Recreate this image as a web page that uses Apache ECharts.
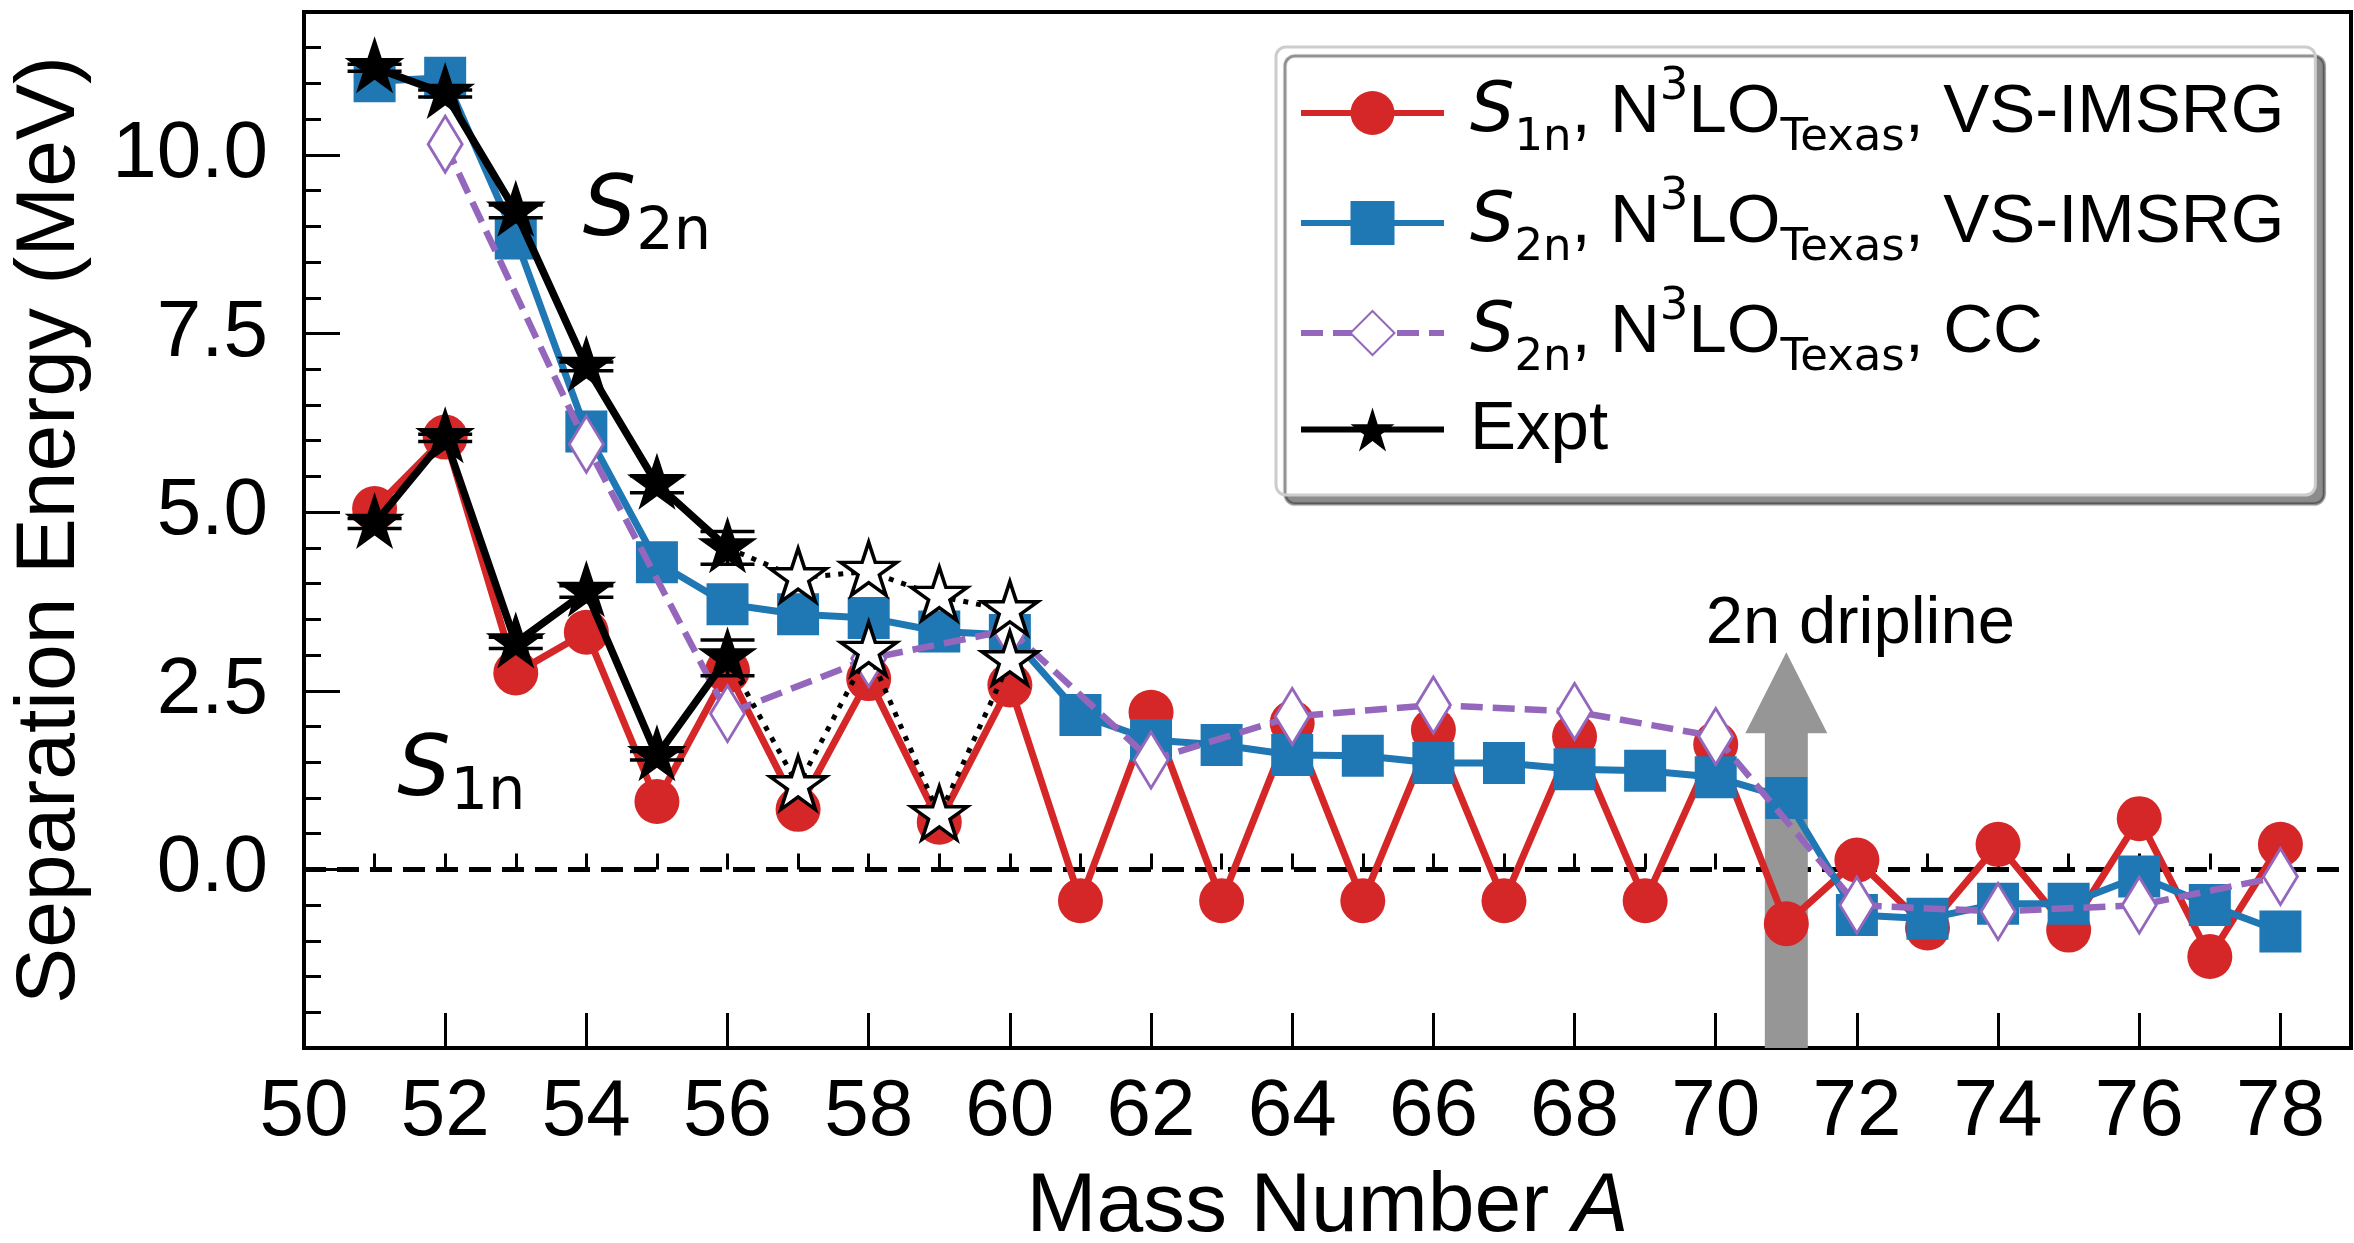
<!DOCTYPE html>
<html>
<head>
<meta charset="utf-8">
<script src="https://cdn.jsdelivr.net/npm/echarts@6/dist/echarts.min.js"></script>
<style>
html,body{margin:0;padding:0;background:#fff;}
#chart{width:2354px;height:1243px;}
</style>
</head>
<body>
<div id="chart"></div>
<script>
// ---------------- data ----------------
const massNumbers = [51,52,53,54,55,56,57,58,59,60,61,62,63,64,65,66,67,68,69,70,71,72,73,74,75,76,77,78];
const s1nIMSRG = [5.05,6.05,2.75,3.32,0.95,2.78,0.84,2.67,0.66,2.58,-0.44,2.20,-0.44,2.05,-0.44,1.95,-0.44,1.86,-0.44,1.75,-0.76,0.13,-0.82,0.35,-0.85,0.71,-1.22,0.35];
const s2nIMSRG = [11.03,11.08,8.83,6.13,4.30,3.71,3.57,3.52,3.33,3.28,2.16,1.81,1.74,1.60,1.59,1.49,1.49,1.40,1.38,1.29,1.00,-0.64,-0.69,-0.48,-0.48,-0.10,-0.50,-0.87];
const ccMass = [52,54,56,58,60,62,64,66,68,70,72,74,76,78];
const s2nCC = [10.15,5.95,2.18,2.95,3.35,1.53,2.14,2.30,2.21,1.86,-0.50,-0.59,-0.50,-0.10];
const exptMass = [51,52,53,54,55,56];
const s2nExpt = [11.22,10.86,9.21,7.04,5.39,4.50];
const s2nExptErr = [0.05,0.05,0.09,0.06,0.12,0.23];
const s1nExpt = [4.84,6.04,3.17,3.89,1.59,2.96];
const s1nExptErr = [0.07,0.05,0.08,0.08,0.06,0.25];
const extrapMass = [57,58,59,60];
const s2nExtrap = [4.08,4.17,3.82,3.62];
const s1nExtrap = [1.17,3.05,0.75,2.92];
const xRange = [50, 79];
const yRange = [-2.5, 12];
const xMajor = 2, xMinor = 1;
const yMajor = 2.5, yMinor = 0.5;
const driplineA = 71;
const driplineTip = 3.04;
// annotation anchors (data coords, baseline-left)
const labelS2n = [53.95, 8.78];
const labelS1n = [51.32, 0.94];
const labelDrip = [69.86, 3.11];

// ---------------- helpers ----------------
const zip = (xs, ys) => xs.map((x, i) => [x, ys[i]]);
const RED = '#d62728', BLUE = '#1f77b4', PURPLE = '#9467bd', GRAY = '#969696';
const STAR = 'path://M100,0L122.45,69.1L195.11,69.1L136.33,111.8L158.78,180.9L100,138.2L41.22,180.9L63.67,111.8L4.89,69.1L77.55,69.1Z';
const DIAMOND = 'path://M30,0L60,50L30,100L0,50Z';
const SANS = 'Liberation Sans';
const MATH = 'DejaVu Sans';

const N1 = 'S1n, N3LO Texas, VS-IMSRG';
const N2 = 'S2n, N3LO Texas, VS-IMSRG';
const N3 = 'S2n, N3LO Texas, CC';
const N4 = 'Expt';
const legendText = {};
legendText[N1] = '{s|S}{sb|1n}{n|, N}{sp|3}{n|LO}{sb|Texas}{n|, VS-IMSRG}';
legendText[N2] = '{s|S}{sb|2n}{n|, N}{sp|3}{n|LO}{sb|Texas}{n|, VS-IMSRG}';
legendText[N3] = '{s|S}{sb|2n}{n|, N}{sp|3}{n|LO}{sb|Texas}{n|, CC}';
legendText[N4] = '{e|Expt}';

function errBarRender(params, api) {
  const x = api.value(0), lo = api.value(1), hi = api.value(2);
  const a = api.coord([x, lo]), b = api.coord([x, hi]);
  const hw = 27;
  const st = {stroke: '#000', lineWidth: 3.5};
  return {type: 'group', children: [
    {type: 'line', shape: {x1: a[0], y1: a[1], x2: b[0], y2: b[1]}, style: st},
    {type: 'line', shape: {x1: a[0]-hw, y1: a[1], x2: a[0]+hw, y2: a[1]}, style: st},
    {type: 'line', shape: {x1: b[0]-hw, y1: b[1], x2: b[0]+hw, y2: b[1]}, style: st}
  ]};
}
function arrowRender(params, api) {
  const x = api.value(0);
  const base = api.coord([x, api.value(1)]);
  const tip = api.coord([x, api.value(2)]);
  const sw = 21.5, hw = 41, hl = 81;
  const hy = tip[1] + hl;
  return {type: 'polygon', shape: {points: [
    [base[0]-sw, base[1]], [base[0]-sw, hy], [tip[0]-hw, hy], [tip[0], tip[1]],
    [tip[0]+hw, hy], [base[0]+sw, hy], [base[0]+sw, base[1]]
  ]}, style: {fill: GRAY}};
}

const tickStyle = {color: '#000', width: 3};
const chart = echarts.init(document.getElementById('chart'), null, {renderer: 'canvas'});
const option = {
  animation: false,
  backgroundColor: '#fff',
  textStyle: {fontFamily: SANS, color: '#000'},
  grid: {left: 304, right: 3, top: 12, bottom: 195, show: true, borderColor: '#000', borderWidth: 4,
         containLabel: false, outerBoundsMode: 'none'},
  xAxis: [{
    type: 'value', min: xRange[0], max: xRange[1], interval: xMajor, position: 'bottom',
    axisLine: {show: true, onZero: false, lineStyle: {color: '#000', width: 4}},
    axisTick: {show: true, inside: true, length: 35, lineStyle: tickStyle},
    minorTick: {show: false}, splitLine: {show: false},
    axisLabel: {margin: 25, fontSize: 80, fontFamily: SANS, color: '#000', showMaxLabel: false,
                formatter: v => String(v)},
    name: 'Mass Number {i|A}', nameLocation: 'middle', nameGap: 118,
    nameTextStyle: {fontSize: 84, fontFamily: SANS, color: '#000',
      rich: {i: {fontSize: 84, fontFamily: SANS, fontStyle: 'italic', color: '#000'}}}
  }, {
    type: 'value', min: xRange[0], max: xRange[1], interval: xMinor, position: 'bottom', offset: 0,
    axisLine: {show: false}, axisTick: {show: true, inside: true, length: 16, lineStyle: tickStyle},
    axisLabel: {show: false}, splitLine: {show: false}
  }],
  yAxis: [{
    type: 'value', min: yRange[0], max: yRange[1], interval: yMajor, position: 'left',
    axisLine: {show: true, onZero: false, lineStyle: {color: '#000', width: 4}},
    axisTick: {show: true, inside: true, length: 36, lineStyle: tickStyle},
    minorTick: {show: false}, splitLine: {show: false},
    axisLabel: {margin: 36, fontSize: 80, fontFamily: SANS, color: '#000', showMinLabel: false, showMaxLabel: false,
                formatter: v => v.toFixed(1)},
    name: 'Separation Energy (MeV)', nameLocation: 'middle', nameGap: 211,
    nameTextStyle: {fontSize: 84, fontFamily: SANS, color: '#000'}
  }, {
    type: 'value', min: yRange[0], max: yRange[1], interval: yMinor, position: 'left', offset: 0,
    axisLine: {show: false}, axisTick: {show: true, inside: true, length: 17, lineStyle: tickStyle},
    axisLabel: {show: false}, splitLine: {show: false}
  }],
  legend: {
    data: [N1, N2, N3, N4], orient: 'vertical', left: 1276, top: 47,
    itemWidth: 143, itemHeight: 55, itemGap: 14, padding: [18, 31, 31, 22],
    backgroundColor: '#fff', borderColor: '#cccccc', borderWidth: 3, borderRadius: 10,
    shadowColor: 'rgba(0,0,0,0.45)', shadowOffsetX: 9, shadowOffsetY: 9, shadowBlur: 1,
    selectedMode: false,
    lineStyle: {width: 6},
    formatter: name => legendText[name],
    textStyle: {
      padding: [0, 0, 0, 21], fontSize: 69, fontFamily: SANS, color: '#000',
      rich: {
        s: {fontFamily: MATH, fontStyle: 'italic', fontSize: 70, lineHeight: 96, color: '#000'},
        sb: {fontFamily: MATH, fontSize: 45, lineHeight: 62, verticalAlign: 'bottom', color: '#000'},
        sp: {fontFamily: MATH, fontSize: 45, lineHeight: 56, verticalAlign: 'top', color: '#000'},
        n: {fontFamily: SANS, fontSize: 69, lineHeight: 96, color: '#000'},
        e: {fontFamily: SANS, fontSize: 69, lineHeight: 66, color: '#000'}
      }
    }
  },
  series: [
    {name: 'zero', type: 'line', data: [[xRange[0], 0], [xRange[1], 0]], symbol: 'none', silent: true,
     lineStyle: {color: '#000', width: 5, type: [22, 11]}, z: 1},
    {name: '2n dripline', type: 'custom', renderItem: arrowRender, data: [[driplineA, yRange[0], driplineTip]],
     silent: true, z: 2},
    {name: N1, type: 'line', data: zip(massNumbers, s1nIMSRG), symbol: 'circle', symbolSize: 45,
     lineStyle: {color: RED, width: 7, join: 'round'}, itemStyle: {color: RED}, z: 3},
    {name: N2, type: 'line', data: zip(massNumbers, s2nIMSRG), symbol: 'rect', symbolSize: 42,
     lineStyle: {color: BLUE, width: 7, join: 'round'}, itemStyle: {color: BLUE}, z: 4},
    {name: N3, type: 'line', data: zip(ccMass, s2nCC), symbol: DIAMOND, symbolSize: [34, 56],
     lineStyle: {color: PURPLE, width: 6.5, type: [22, 10]}, itemStyle: {color: '#fff', borderColor: PURPLE, borderWidth: 3}, z: 5},
    {name: N4, type: 'line', data: zip(exptMass, s2nExpt), symbol: STAR, symbolSize: [60, 57], symbolOffset: [0, -3],
     lineStyle: {color: '#000', width: 7.5, join: 'round'}, itemStyle: {color: '#000'}, z: 7},
    {name: 'Expt S1n', type: 'line', data: zip(exptMass, s1nExpt), symbol: STAR, symbolSize: [60, 57], symbolOffset: [0, -3],
     lineStyle: {color: '#000', width: 7.5, join: 'round'}, itemStyle: {color: '#000'}, z: 7},
    {name: 'Expt S2n extrapolated line', type: 'line', symbol: 'none',
     data: [[exptMass[exptMass.length-1], s2nExpt[s2nExpt.length-1]]].concat(zip(extrapMass, s2nExtrap)),
     lineStyle: {color: '#000', width: 5, type: [5, 8]}, z: 6},
    {name: 'Expt S1n extrapolated line', type: 'line', symbol: 'none',
     data: [[exptMass[exptMass.length-1], s1nExpt[s1nExpt.length-1]]].concat(zip(extrapMass, s1nExtrap)),
     lineStyle: {color: '#000', width: 5, type: [5, 8]}, z: 6},
    {name: 'Expt S2n extrapolated', type: 'scatter', data: zip(extrapMass, s2nExtrap), symbol: STAR,
     symbolSize: [56, 53], symbolOffset: [0, -2.8], itemStyle: {color: '#fff', borderColor: '#000', borderWidth: 3.5, opacity: 1}, z: 8},
    {name: 'Expt S1n extrapolated', type: 'scatter', data: zip(extrapMass, s1nExtrap), symbol: STAR,
     symbolSize: [56, 53], symbolOffset: [0, -2.8], itemStyle: {color: '#fff', borderColor: '#000', borderWidth: 3.5, opacity: 1}, z: 8},
    {name: 'Expt errors', type: 'custom', renderItem: errBarRender, silent: true, z: 6,
     data: exptMass.map((a, i) => [a, s2nExpt[i]-s2nExptErr[i], s2nExpt[i]+s2nExptErr[i]])
       .concat(exptMass.map((a, i) => [a, s1nExpt[i]-s1nExptErr[i], s1nExpt[i]+s1nExptErr[i]]))}
  ]
};
chart.setOption(option);

// ---------------- annotations (positioned from data coords) ----------------
function subLabel(pos, sub) {
  const p = chart.convertToPixel({gridIndex: 0}, pos);
  return {type: 'text', x: p[0], y: p[1] - 79, z: 20, silent: true,
    style: {text: '{s|S}{b|' + sub + '}', align: 'left', verticalAlign: 'top', fill: '#000',
      rich: {s: {fontFamily: MATH, fontStyle: 'italic', fontSize: 84, lineHeight: 100, fill: '#000'},
             b: {fontFamily: MATH, fontSize: 59, lineHeight: 55, verticalAlign: 'bottom', fill: '#000'}}}};
}
const pd = chart.convertToPixel({gridIndex: 0}, labelDrip);
chart.setOption({graphic: [
  subLabel(labelS2n, '2n'),
  subLabel(labelS1n, '1n'),
  {type: 'text', x: pd[0], y: pd[1] - 23, z: 20, silent: true,
   style: {text: '2n dripline', font: '67px "Liberation Sans"', fill: '#000', align: 'left', verticalAlign: 'middle'}}
]});
</script>
</body>
</html>
